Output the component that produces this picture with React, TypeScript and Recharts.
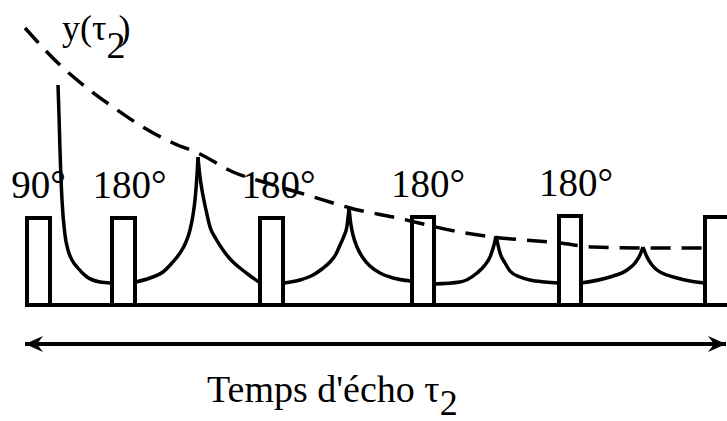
import React from 'react';
import { LineChart, Line, XAxis, YAxis, ReferenceArea } from 'recharts';

const W = 727;
const H = 421;
const FONT = "'Liberation Serif', 'Times New Roman', serif";

// RF pulses: start / end time, height above the baseline
const pulseStart = [27, 112, 260, 412, 559, 705];
const pulseEnd = [50, 135, 283, 434, 581, 745];
const pulseTop = [87, 87, 87, 88, 89, 88];
const pulseLabels = ['90°', '180°', '180°', '180°', '180°', ''];

// signal pieces [time, amplitude]
const fid = [[58, 220], [59, 190], [60, 155], [62, 105], [65, 70], [68, 55], [72, 45], [77, 38], [87, 28], [100, 23], [111, 22]];
const echo1Rise = [[136, 23], [150, 27], [163, 33], [172, 42], [180, 52], [186, 63], [190, 75], [193, 90], [195, 105], [197, 130], [198, 148]];
const echo1Fall = [[198, 148], [200, 128], [202, 115], [206, 95], [210, 78], [216, 66], [223, 55], [231, 45], [240, 37], [249, 30], [259, 23]];
const echo2Rise = [[284, 22], [300, 25], [313, 30], [322, 36], [330, 43], [336, 51], [340, 60], [344, 69], [347, 79], [349, 97]];
const echo2Fall = [[349, 97], [351, 80], [353, 70], [357, 58], [363, 47], [370, 39], [380, 32], [393, 27], [411, 24]];
const echo3Rise = [[434, 21], [460, 23], [477, 32], [485, 40], [490, 48], [494, 60], [496, 69]];
const echo3Fall = [[496, 69], [498, 60], [500, 52], [505, 42], [510, 34], [520, 28], [530, 25], [545, 23], [559, 22]];
const echo4Rise = [[581, 22], [610, 28], [627, 35], [635, 42], [640, 50], [643, 58]];
const echo4Fall = [[643, 58], [647, 48], [652, 40], [657, 35], [667, 30], [677, 27], [690, 24], [705, 22]];
const signalPieces = [fid, echo1Rise, echo1Fall, echo2Rise, echo2Fall, echo3Rise, echo3Fall, echo4Rise, echo4Fall];

// T2 decay envelope y(tau2)
const envelope = [[25, 277], [60, 240], [87, 217], [113, 198], [143, 178], [173, 162], [200, 151], [233, 133], [267, 122], [307, 110], [333, 102], [350, 97], [393, 88], [460, 73], [493, 68], [560, 62], [593, 58], [643, 57], [705, 57]];

const baseline = [[25, 0], [727, 0]];
const timeArrow = [[25, -39], [726, -39]];

const labelNudge = [0, 6, 7, 5, 6, 0];

const rows = (pts: number[][]) => pts.map(([t, a]) => ({ t, a }));

const ArrowHead = (props: any) => {
  const { cx, cy, index } = props;
  const s = index === 0 ? 1 : -1;
  const d = `M${cx},${cy} L${cx + s * 18},${cy - 8} L${cx + s * 12},${cy} L${cx + s * 18},${cy + 8} Z`;
  return <path key={`ah-${index}`} d={d} fill="#000" stroke="none" />;
};

export default function App() {
  return (
    <div style={{ position: 'absolute', left: 0, top: 0, width: W, height: H, background: '#fff' }}>
      <LineChart width={W} height={H} margin={{ top: 0, right: 0, bottom: 0, left: 0 }}>
        <XAxis type="number" dataKey="t" domain={[0, 727]} allowDataOverflow hide />
        <YAxis type="number" dataKey="a" domain={[-116, 305]} allowDataOverflow hide />
        {pulseStart.map((x1, i) => (
          <ReferenceArea
            key={`p${i}`}
            x1={x1}
            x2={pulseEnd[i]}
            y1={0}
            y2={pulseTop[i]}
            ifOverflow="visible"
            fill="none"
            stroke="#000"
            strokeWidth={4}
            label={(p: any) => {
              const vb = p.viewBox || {};
              return (
                <text
                  x={vb.x + vb.width / 2 + labelNudge[i]}
                  y={vb.y - 20}
                  textAnchor="middle"
                  style={{ fontFamily: FONT }}
                  fontSize={39}
                  fill="#000"
                >
                  {pulseLabels[i]}
                </text>
              );
            }}
          />
        ))}
        <Line data={rows(baseline)} dataKey="a" type="linear" stroke="#000" strokeWidth={4} dot={false} activeDot={false} isAnimationActive={false} />
        <Line data={rows(envelope)} dataKey="a" type="monotone" stroke="#000" strokeWidth={3.5} strokeDasharray="20 11" dot={false} activeDot={false} isAnimationActive={false} />
        {signalPieces.map((seg, i) => (
          <Line key={`s${i}`} data={rows(seg)} dataKey="a" type="monotone" stroke="#000" strokeWidth={3.5} dot={false} activeDot={false} isAnimationActive={false} />
        ))}
        <Line data={rows(timeArrow)} dataKey="a" type="linear" stroke="#000" strokeWidth={4} dot={ArrowHead} activeDot={false} isAnimationActive={false} />
      </LineChart>
      <svg width={W} height={H} style={{ position: 'absolute', left: 0, top: 0, pointerEvents: 'none' }}>
        <text x={62} y={40} style={{ fontFamily: FONT }} fontSize={36} fill="#000">
          y(τ<tspan dy={18} fontSize={38}>2</tspan>
          <tspan dx={-7} dy={-18}>)</tspan>
        </text>
        <text x={207} y={402} style={{ fontFamily: FONT }} fontSize={38} fill="#000">
          Temps d'écho τ<tspan dy={13} fontSize={36}>2</tspan>
        </text>
      </svg>
    </div>
  );
}
